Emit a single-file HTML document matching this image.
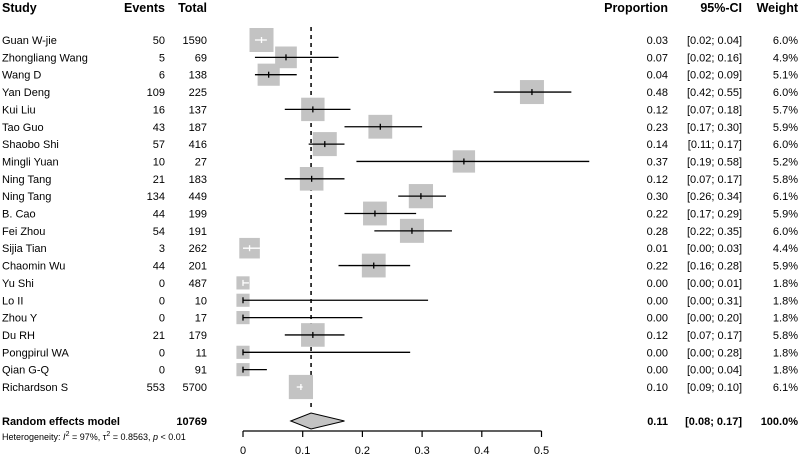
<!DOCTYPE html>
<html><head><meta charset="utf-8"><style>
body{margin:0;background:#fff;width:800px;height:457px;overflow:hidden}
svg text{font-family:"Liberation Sans",Arial,sans-serif;font-size:11px;fill:#000}
</style></head><body>
<svg id="plot" width="800" height="457" xmlns="http://www.w3.org/2000/svg"></svg>
<script>
const studies=["Guan W-jie","Zhongliang Wang","Wang D","Yan Deng","Kui Liu","Tao Guo","Shaobo Shi","Mingli Yuan","Ning Tang","Ning Tang","B. Cao","Fei Zhou","Sijia Tian","Chaomin Wu","Yu Shi","Lo II","Zhou Y","Du RH","Pongpirul WA","Qian G-Q","Richardson S"];
const events=[50,5,6,109,16,43,57,10,21,134,44,54,3,44,0,0,0,21,0,0,553];
const totals=[1590,69,138,225,137,187,416,27,183,449,199,191,262,201,487,10,17,179,11,91,5700];
const props=[0.031,0.072,0.043,0.484,0.117,0.230,0.137,0.370,0.115,0.298,0.221,0.283,0.011,0.219,0.000,0.000,0.000,0.117,0.000,0.000,0.097];
const lowers=[0.02,0.02,0.02,0.42,0.07,0.17,0.11,0.19,0.07,0.26,0.17,0.22,0.00,0.16,0.00,0.00,0.00,0.07,0.00,0.00,0.09];
const uppers=[0.04,0.16,0.09,0.55,0.18,0.30,0.17,0.58,0.17,0.34,0.29,0.35,0.03,0.28,0.01,0.31,0.20,0.17,0.28,0.04,0.10];
const weights=[6.0,4.9,5.1,6.0,5.7,5.9,6.0,5.2,5.8,6.1,5.9,6.0,4.4,5.9,1.8,1.8,1.8,5.8,1.8,1.8,6.1];
const pooled=[0.114,0.08,0.17];
const ticks=[0,0.1,0.2,0.3,0.4,0.5];
const NS="http://www.w3.org/2000/svg";
const svg=document.getElementById('plot');
const X=v=>243+v*597;
const Y=i=>40+i*17.35;
function el(tag,a){const e=document.createElementNS(NS,tag);for(const k in a)e.setAttribute(k,a[k]);svg.appendChild(e);return e;}
function txt(x,y,s,anchor,bold,size){const t=el('text',{x:x,y:y,'text-anchor':anchor||'start'});if(bold)t.setAttribute('font-weight','bold');if(size)t.style.fontSize=size+'px';t.textContent=s;return t;}
function fmt(v){return v.toFixed(2);}
[["Study",2,"start"],["Events",165,"end"],["Total",207,"end"],["Proportion",668,"end"],["95%-CI",742,"end"],["Weight",798,"end"]].forEach(h=>{
 const t=txt(h[1],12,h[0],h[2],true,12.5);
 
 
});
const ref=el('line',{x1:X(pooled[0]),x2:X(pooled[0]),y1:27,y2:408,stroke:'#000','stroke-width':1.5,'stroke-dasharray':'4,4'});


studies.forEach((s,i)=>{
 const y=Y(i);
 let t=txt(2,y+4,s);
 
 
 t=txt(165,y+4,String(events[i]),'end');
 
 
 t=txt(207,y+4,String(totals[i]),'end');
 
 
 t=txt(668,y+4,fmt(props[i]),'end');
 
 
 t=txt(742,y+4,'['+fmt(lowers[i])+'; '+fmt(uppers[i])+']','end');
 
 
 t=txt(798,y+4,weights[i].toFixed(1)+'%','end');
 
 
 const side=9.8*Math.sqrt(weights[i]);
 const cx=X(props[i]);
 const b=el('rect',{x:cx-side/2,y:y-side/2,width:side,height:side,fill:'#c3c3c3'});
 
 
 const x1=X(lowers[i]),x2=X(uppers[i]);
 const inside=x1>=cx-side/2-2&&x2<=cx+side/2+2;
 const col=inside?'#fff':'#000';
 const l=el('line',{x1:x1,x2:x2,y1:y,y2:y,stroke:col,'stroke-width':1.3});
 
 
 const p=el('line',{x1:cx,x2:cx,y1:y-3,y2:y+3,stroke:col,'stroke-width':1.3});
 
 
});
const py=421;
let t=txt(2,py+4,"Random effects model","start",true);


t=txt(207,py+4,String(totals.reduce((a,b)=>a+b,0)),'end',true);


t=txt(668,py+4,fmt(pooled[0]),'end',true);


t=txt(742,py+4,'['+fmt(pooled[1])+'; '+fmt(pooled[2])+']','end',true);


t=txt(798,py+4,'100.0%','end',true);


const d=el('polygon',{points:`${X(pooled[1])},${py} ${X(pooled[0])},${py-8} ${X(pooled[2])},${py} ${X(pooled[0])},${py+8}`,fill:'#c3c3c3',stroke:'#000','stroke-width':1});


const het=el('text',{x:2,y:440});
het.style.fontSize='9px';
het.innerHTML='Heterogeneity: <tspan font-style="italic">I</tspan><tspan dy="-4" font-size="7">2</tspan><tspan dy="4"> = 97%, </tspan><tspan>τ</tspan><tspan dy="-4" font-size="7">2</tspan><tspan dy="4"> = 0.8563, </tspan><tspan font-style="italic">p</tspan><tspan> &lt; 0.01</tspan>';


const ax=el('line',{x1:X(ticks[0]),x2:X(ticks[ticks.length-1]),y1:431,y2:431,stroke:'#000','stroke-width':1.2});


ticks.forEach(v=>{
 const tk=el('line',{x1:X(v),x2:X(v),y1:431,y2:437,stroke:'#000','stroke-width':1.2});
 
 
 const tl=txt(X(v),454,String(v),'middle');
 
 
});
</script>
</body></html>
